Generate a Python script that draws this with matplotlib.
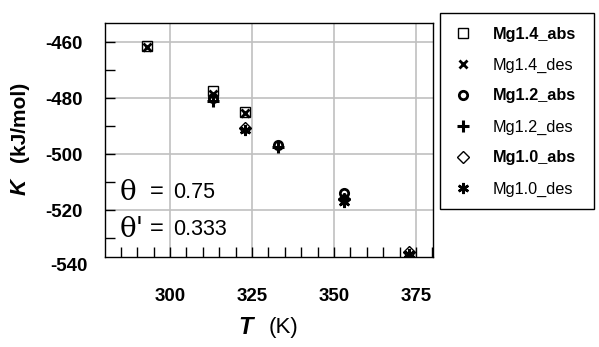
import matplotlib
matplotlib.use("Agg")
import matplotlib.pyplot as plt
from matplotlib.ticker import MultipleLocator
from matplotlib.patches import Rectangle

plt.rcParams['font.family'] = ['Liberation Sans', 'DejaVu Sans']
plt.rcParams['axes.unicode_minus'] = False

# Data
T_14 = [293, 313, 323]
K_14_abs = [-461.2, -477.6, -485.0]
K_14_des = [-461.6, -478.4, -485.2]
T_12 = [313, 333, 353]
K_12_abs = [-480.0, -496.7, -514.0]
K_12_des = [-481.0, -497.6, -516.0]
T_10 = [323, 353, 373]
K_10_abs = [-490.6, -516.0, -535.0]
K_10_des = [-491.4, -517.2, -535.6]

labels = ["Mg1.4_abs", "Mg1.4_des", "Mg1.2_abs", "Mg1.2_des", "Mg1.0_abs", "Mg1.0_des"]
xticks = [300, 325, 350, 375]
yticks = [-460, -480, -500, -520]

fig = plt.figure(figsize=(5.99, 3.47), dpi=100)
W, H = 599, 347
ax = fig.add_axes([105 / W, 1 - 257.3 / H, (433 - 105) / W, (257.3 - 22.7) / H])

ax.set_xlim(280.2, 380.2)
ax.set_ylim(-536.9, -453.0)

ms = 7
h = []
h += ax.plot(T_14, K_14_abs, ls='none', marker='s', ms=ms, mfc='none', mec='black', mew=1.0, label=labels[0])
h += ax.plot(T_14, K_14_des, ls='none', marker='x', ms=ms - 1, mec='black', mew=2.0, label=labels[1])
h += ax.plot(T_12, K_12_abs, ls='none', marker='o', ms=ms - 1, mfc='none', mec='black', mew=2.0, label=labels[2])
h += ax.plot(T_12, K_12_des, ls='none', marker='+', ms=ms + 2, mec='black', mew=2.2, label=labels[3])
h += ax.plot(T_10, K_10_abs, ls='none', marker='D', ms=ms - 1, mfc='none', mec='black', mew=1.0, label=labels[4])
h += ax.plot(T_10, K_10_des, ls='none', marker=(6, 2, 0), ms=ms + 1, mec='black', mew=1.8, label=labels[5])

ax.set_xticks(xticks)
ax.set_yticks(yticks)
ax.xaxis.set_minor_locator(MultipleLocator(5))
ax.yaxis.set_minor_locator(MultipleLocator(10))
ax.grid(True, which='major', color='#c0c0c0', lw=1.2)
ax.set_axisbelow(True)
ax.tick_params(axis='both', which='both', direction='in', top=False, right=False,
               color='black', width=1)
ax.tick_params(axis='x', which='both', length=7, pad=22)
ax.tick_params(axis='y', which='both', length=7, pad=16)
for lab in ax.get_xticklabels() + ax.get_yticklabels():
    lab.set_fontsize(13.5)
    lab.set_fontweight('bold')
for s in ax.spines.values():
    s.set_linewidth(1.0)

# extra bottom y label (below axis range in original)
ax.text(-(105 - 88) / 328, -540.3, "-540", transform=ax.get_yaxis_transform(), ha='right', va='center',
        fontsize=13.5, fontweight='bold', clip_on=False)

fig.text(20 / W, 1 - 187 / H, "K", fontsize=16, fontweight='bold', fontstyle='italic',
         rotation=90, ha='center', va='center')
fig.text(20 / W, 1 - 122 / H, "(kJ/mol)", fontsize=15, fontweight='bold',
         rotation=90, ha='center', va='center')
fig.text(246 / W, 1 - 327 / H, "T", fontsize=17, fontweight='bold', fontstyle='italic',
         ha='center', va='center')
fig.text(283 / W, 1 - 327 / H, "(K)", fontsize=16, ha='center', va='center')

# theta annotations
for yy, sym, val in [(0.278, "θ", "0.75"), (0.12, "θ'", "0.333")]:
    ax.text(0.046, yy, sym, transform=ax.transAxes, fontsize=20, family='DejaVu Serif', va='center')
    ax.text(0.137, yy, "=", transform=ax.transAxes, fontsize=17, va='center')
    ax.text(0.207, yy, val, transform=ax.transAxes, fontsize=15.5, va='center')

# legend frame
fig.patches.append(Rectangle((440 / W, 1 - 209 / H), 154 / W, 196 / H, transform=fig.transFigure,
                             facecolor='white', edgecolor='black', lw=1.0, zorder=0))

fs = 11.7
hl = 1.4
x0 = 463 - hl * fs * 100 / 72 / 2
leg = fig.legend(handles=h, labels=labels, loc='upper left',
                 bbox_to_anchor=(x0 / W, 1 - 26.5 / H), fontsize=fs,
                 frameon=False, borderpad=0, labelspacing=0.98, handlelength=hl,
                 handletextpad=1.15, borderaxespad=0)
for i, t in enumerate(leg.get_texts()):
    if i % 2 == 0:
        t.set_fontweight('bold')

fig.savefig("out.png", dpi=100)
